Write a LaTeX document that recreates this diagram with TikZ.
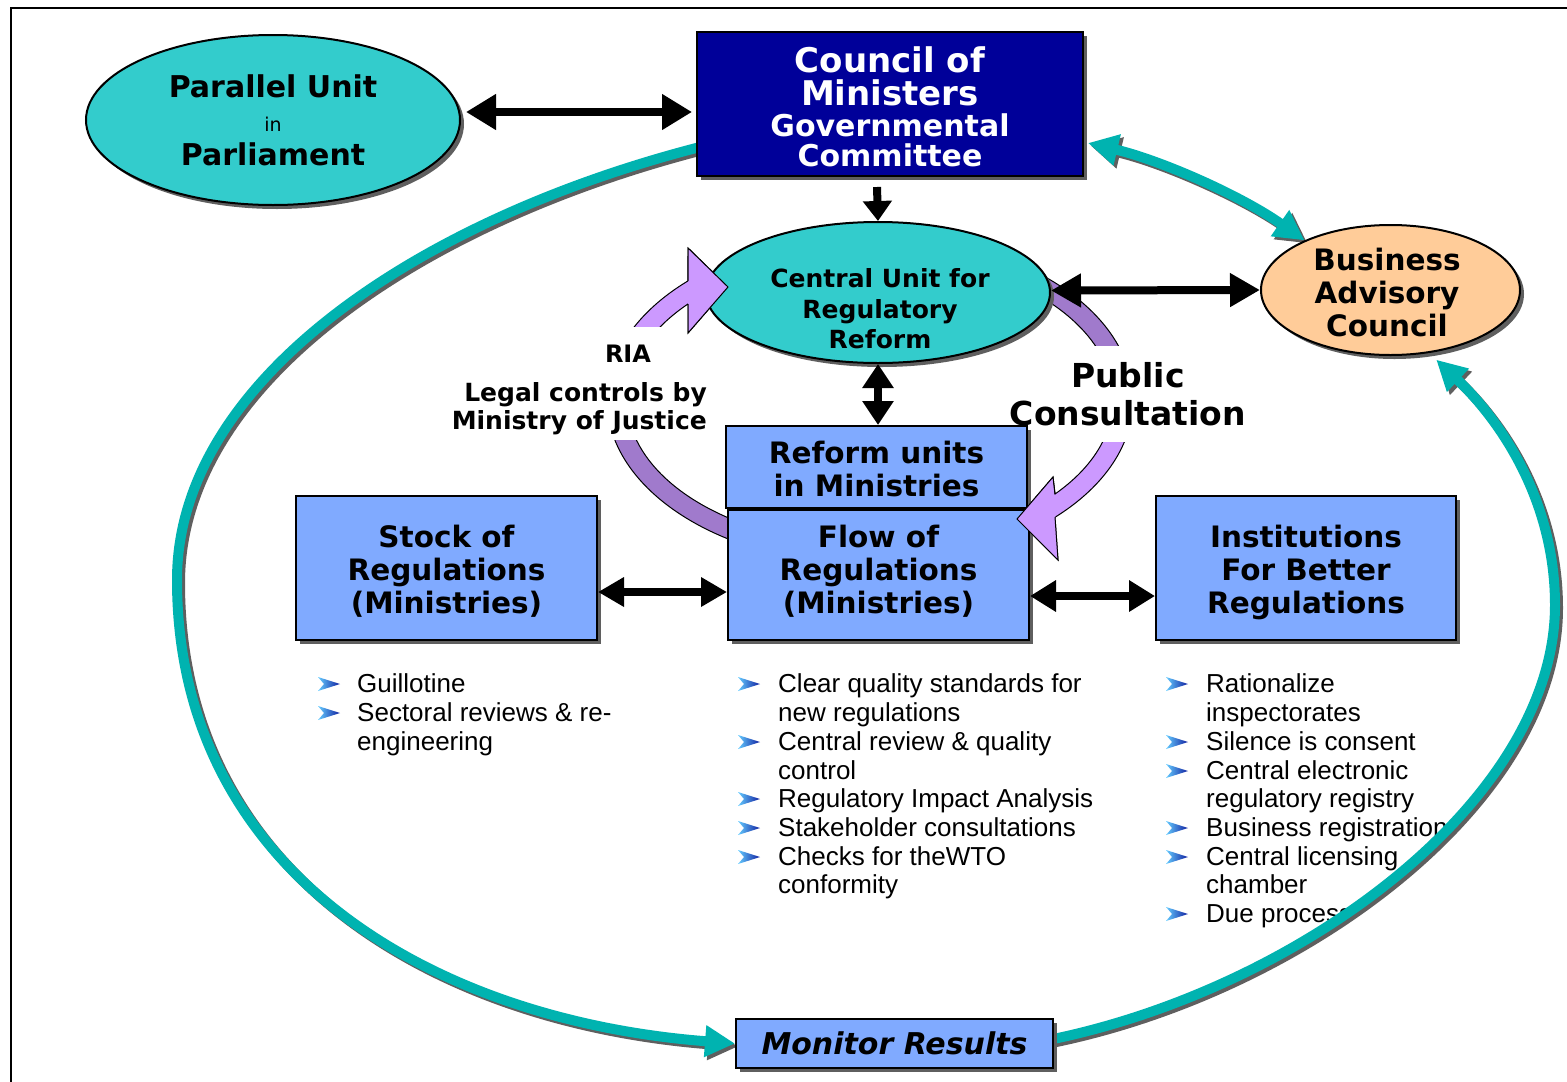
\documentclass[tikz,border=0pt]{standalone}
\usepackage{fontspec}
\setmainfont{DejaVu Sans}
\newfontfamily\arialf{Liberation Sans}
\usetikzlibrary{shapes.geometric,arrows.meta,calc,shadows}
\definecolor{tealc}{HTML}{00B3B0}
\definecolor{ellc}{HTML}{33CCCC}
\definecolor{navyc}{HTML}{000099}
\definecolor{boxc}{HTML}{80AAFF}
\definecolor{peachc}{HTML}{FFCC99}
\definecolor{pL}{HTML}{CC99FF}
\definecolor{pD}{HTML}{A07ACC}
\definecolor{shc}{HTML}{5F5F5F}
\definecolor{bulL}{HTML}{66CCFF}
\definecolor{bulR}{HTML}{0F1FA0}
\pgfdeclarelayer{lower}\pgfdeclarelayer{conn}\pgfdeclarelayer{arcs}\pgfdeclarelayer{top}
\pgfsetlayers{lower,conn,arcs,main,top}
\tikzset{
 shd/.style={drop shadow={shadow xshift=4pt, shadow yshift=-4pt, opacity=1, fill=shc}},
 rbox/.style={rectangle, draw=black, line width=2pt, fill=boxc, shd, inner sep=0pt},
 btext/.style={align=center, inner sep=0pt, font=\bfseries\fontsize{29.5}{33}\selectfont},
 ell/.style={ellipse, draw=black, line width=2pt, shd, inner sep=0pt},
 etext/.style={align=center, inner sep=0pt},
 li/.style={anchor=west, inner sep=0pt, text height=19pt, text depth=6pt, font=\arialf\fontsize{26}{29}\selectfont},
 blk/.style={line width=8pt, draw=black},
 tl/.style={line width=10pt, draw=tealc},
 tls/.style={line width=10pt, draw=shc, transform canvas={xshift=3pt,yshift=-3pt}},
 lab/.style={fill=white, inner sep=0pt},
 purp/.style={draw=black, line width=1pt},
 bul/.pic={\path[left color=bulL, right color=bulR] (-11,-7) -- (11,0) -- (-11,7) -- (-5,0) -- cycle;},
}
\begin{document}
\begin{tikzpicture}[x=1pt,y=-1pt]
\useasboundingbox (0,0) rectangle (1567,1082);
\draw[line width=2pt] (11,1082) -- (11,8) -- (1567,8);

% ---------- shapes ----------
\node[ell, fill=ellc, minimum width=374pt, minimum height=170pt] (par) at (273,120) {};
\node[etext, font=\bfseries\fontsize{30}{34}\selectfont] (part) at (273,120) {Parallel Unit\\{\mdseries\fontsize{19}{34}\selectfont in}\\Parliament};
\node[rectangle, draw=black, line width=2pt, fill=navyc, shd, minimum width=386pt, minimum height=144pt, inner sep=0pt] (council) at (890,104) {};
\node[etext, text=white, font=\bfseries\fontsize{34}{32}\selectfont] (councilt) at (890,107) {Council of\\[1pt]Ministers\\[-1pt]{\fontsize{30}{32}\selectfont Governmental}\\[-2pt]{\fontsize{30}{32}\selectfont Committee}};
\node[ell, fill=ellc, minimum width=344pt, minimum height=141pt] (central) at (878,292.5) {};
\node[etext, font=\bfseries\fontsize{25}{30.5}\selectfont] (centralt) at (880,309) {Central Unit for\\Regulatory\\Reform};
\node[ell, fill=peachc, minimum width=259pt, minimum height=130pt] (bac) at (1390.5,290) {};
\node[etext, font=\bfseries\fontsize{29.5}{33}\selectfont] (bact) at (1387,292) {Business\\Advisory\\Council};
\node[rbox, minimum width=301pt, minimum height=82pt] (reform) at (876.5,467) {};
\node[btext] (reformt) at (876.5,469) {Reform units\\in Ministries};
\node[rbox, minimum width=301pt, minimum height=130pt] (flow) at (878.5,575) {};
\node[btext] (flowt) at (878.5,571) {Flow of\\Regulations\\(Ministries)};
\node[rbox, minimum width=301pt, minimum height=144pt] (stock) at (446.5,568) {};
\node[btext] (stockt) at (446.5,571) {Stock of\\Regulations\\(Ministries)};
\node[rbox, minimum width=300pt, minimum height=144pt] (inst) at (1306,568) {};
\node[btext] (instt) at (1306,572) {Institutions\\For Better\\Regulations};
\node[rbox, minimum width=317pt, minimum height=49pt, font=\bfseries\itshape\fontsize{30}{32}\selectfont] (monitor) at (894.5,1043.5) {Monitor Results};

% ---------- black arrows ----------
\draw[blk, {Triangle[width=34pt,length=30pt]}-{Triangle[width=34pt,length=30pt]}] ($(par.east)+(5,-8)$) -- ($(council.west)+(-4,8)$);
\draw[blk, -{Triangle[width=28pt,length=20pt]}] ($(council.south)+(-13,10)$) -- (central.north);
\draw[blk, {Triangle[width=30pt,length=24pt]}-{Triangle[width=30pt,length=24pt]}] (central.south) -- (central.south |- reform.north);
\draw[blk, {Triangle[width=32pt,length=30pt]}-{Triangle[width=32pt,length=30pt]}] ([yshift=2pt]central.east) -- (bac.west);
\draw[blk, {Triangle[width=28pt,length=26pt]}-{Triangle[width=28pt,length=26pt]}] ([yshift=-24pt]stock.east) -- ([yshift=-24pt]stock.east -| flow.west);
\draw[blk, {Triangle[width=30pt,length=26pt]}-{Triangle[width=30pt,length=26pt]}] ([yshift=-21pt]flow.east) -- ([yshift=-21pt]flow.east -| inst.west);

% ---------- teal arrows ----------
\begin{pgfonlayer}{conn}
\draw[tls, -{Triangle[width=30pt,length=30pt]}] ($(council.west)+(8,42)$) .. controls (420,218) and (177,380) .. (177,580) .. controls (177,870) and (430,1020) .. (monitor.west);
\draw[tl, -{Triangle[width=30pt,length=30pt]}] ($(council.west)+(8,42)$) .. controls (420,218) and (177,380) .. (177,580) .. controls (177,870) and (430,1020) .. (monitor.west);
\draw[tls, -{Triangle[width=30pt,length=30pt]}] ($(monitor.east)+(-8,-3)$) .. controls (1300,990) and (1555,800) .. (1555,605) .. controls (1555,500) and (1500,420) .. ([shift={(5,7)}]bac.-57);
\draw[tl, -{Triangle[width=30pt,length=30pt]}] ($(monitor.east)+(-8,-3)$) .. controls (1300,990) and (1555,800) .. (1555,605) .. controls (1555,500) and (1500,420) .. ([shift={(5,7)}]bac.-57);
\draw[tls, {Triangle[width=30pt,length=30pt]}-{Triangle[width=30pt,length=30pt]}] ($(council.east)+(4,39)$) .. controls (1160,160) and (1240,195) .. (bac.150);
\draw[tl, {Triangle[width=30pt,length=30pt]}-{Triangle[width=30pt,length=30pt]}] ($(council.east)+(4,39)$) .. controls (1160,160) and (1240,195) .. (bac.150);
\end{pgfonlayer}

% ---------- purple curved arrows ----------
\begin{pgfonlayer}{arcs}
\coordinate (pc) at (870,400);
\filldraw[purp, fill=pD] ($(pc)+(115:263 and 165)$) arc[start angle=115, end angle=180, x radius=263, y radius=165] -- ($(pc)+(180:243 and 145)$) arc[start angle=180, end angle=115, x radius=243, y radius=145] -- cycle;
\filldraw[purp, fill=pL] ($(pc)+(180:263 and 165)$) arc[start angle=180, end angle=226.2, x radius=263, y radius=165] -- (688,248) -- (728,287) -- (688,333) -- ($(pc)+(221.5:243 and 145)$) arc[start angle=221.5, end angle=180, x radius=243, y radius=145] -- cycle;
\filldraw[purp, fill=pD] ($(pc)+(300:263 and 165)$) arc[start angle=300, end angle=360, x radius=263, y radius=165] -- ($(pc)+(0:243 and 145)$) arc[start angle=360, end angle=300, x radius=243, y radius=145] -- cycle;
\filldraw[purp, fill=pL] ($(pc)+(0:263 and 165)$) arc[start angle=0, end angle=45.3, x radius=263, y radius=165] -- (1058,560) -- (1017,519) -- (1053,477) -- ($(pc)+(40.4:243 and 145)$) arc[start angle=40.4, end angle=0, x radius=243, y radius=145] -- cycle;
\node[lab, minimum width=70pt, minimum height=54pt, font=\bfseries\fontsize{24}{28}\selectfont] (ria) at (628,354) {RIA};
\node[lab, anchor=east, align=right, inner sep=5pt, font=\bfseries\fontsize{25}{28}\selectfont] (legal) at (712,409) {Legal controls by\\Ministry of Justice};
\node[lab, align=center, minimum height=96pt, font=\bfseries\fontsize{33}{38}\selectfont] (pub) at (1128,394) {Public\\Consultation};
\end{pgfonlayer}

\begin{pgfonlayer}{top}
\fill[pL] (688,248) -- (728,287) -- (688,333) -- cycle;
\draw[line width=1pt] (688,281) -- (688,248) -- (728,287) -- (688,333) -- (688,304);
\fill[pL] (1053,477) -- (1017,519) -- (1058,560) -- cycle;
\draw[line width=1pt] (1055,494) -- (1053,477) -- (1017,519) -- (1058,560) -- (1055,517);
\end{pgfonlayer}

% ---------- bullet lists ----------
\begin{pgfonlayer}{lower}
\foreach \i/\yy/\t in {1/686/Guillotine, 2/715/Sectoral reviews \& re-, 3/744/engineering}
  \node[li] (sl\i) at (357,\yy) {\t};
\foreach \yy in {684,713} \pic at (329,\yy) {bul};
\foreach \i/\yy/\t in {1/686/Clear quality standards for, 2/715/new regulations, 3/744/Central review \& quality, 4/773/control, 5/801/Regulatory Impact Analysis, 6/830/Stakeholder consultations, 7/859/Checks for theWTO, 8/887/conformity}
  \node[li] (fl\i) at (778,\yy) {\t};
\foreach \yy in {684,742,799,828,857} \pic at (749,\yy) {bul};
\foreach \i/\yy/\t in {1/686/Rationalize, 2/715/inspectorates, 3/744/Silence is consent, 4/773/Central electronic, 5/801/regulatory registry, 6/830/Business registration, 7/859/Central licensing, 8/887/chamber, 9/916/Due process}
  \node[li] (il\i) at (1206,\yy) {\t};
\foreach \yy in {684,742,771,828,857,914} \pic at (1177,\yy) {bul};
\end{pgfonlayer}
\end{tikzpicture}
\end{document}
